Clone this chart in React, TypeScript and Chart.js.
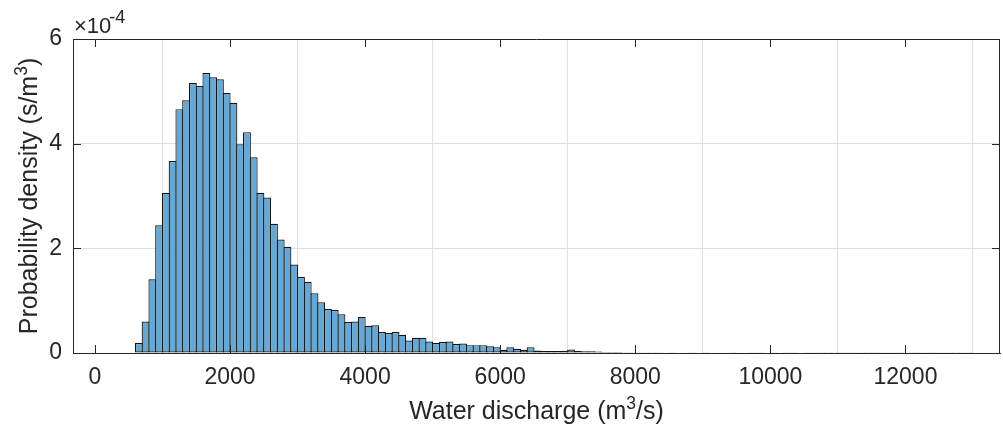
import React, { useEffect, useRef } from "react";
import { Chart, registerables } from "chart.js";

Chart.register(...registerables);

// Histogram bins: left edge of first bin and bin width (m^3/s)
const BIN_START = 300;
const BIN_WIDTH = 100;

// Probability density per bin, in units of 1e-4 s/m^3 (bins 300..13000)
const DENSITY_E4 = [
  0.008, 0.008, 0.008, 0.19, 0.6, 1.41, 2.44, 3.06, 3.67, 4.66,
  4.83, 5.16, 5.1, 5.35, 5.27, 5.23, 4.97, 4.78, 3.99, 4.22,
  3.74, 3.06, 2.97, 2.47, 2.17, 2.03, 1.69, 1.45, 1.36, 1.14,
  0.97, 0.84, 0.82, 0.74, 0.59, 0.6, 0.69, 0.52, 0.53, 0.4,
  0.38, 0.4, 0.35, 0.24, 0.29, 0.29, 0.22, 0.19, 0.21, 0.22,
  0.17, 0.18, 0.15, 0.15, 0.15, 0.13, 0.11, 0.06, 0.11, 0.08,
  0.06, 0.11, 0.05, 0.04, 0.04, 0.04, 0.045, 0.065, 0.04, 0.035,
  0.035, 0.03, 0.02, 0.018, 0.018, 0.015, 0.015, 0.016, 0.014, 0.014,
  0.012, 0.008, 0.012, 0.008, 0.008, 0.006, 0.01, 0.007, 0.01, 0.01,
  0.009, 0.006, 0.009, 0.009, 0.006, 0.006, 0.009, 0.006, 0.008, 0.006,
  0.006, 0.008, 0.006, 0.006, 0.007, 0.007, 0.006, 0.006, 0.006, 0.006,
  0.007, 0.006, 0.006, 0.006, 0.006, 0.006, 0.007, 0.006, 0.007, 0.007,
  0.006, 0.006, 0.006, 0.006, 0.006, 0.006, 0.006,
];

const X_TICKS = [0, 2000, 4000, 6000, 8000, 10000, 12000];
const Y_TICKS = [0, 2, 4, 6];
const X_MIN = -325;
const X_MAX = 13400;
const Y_MIN = 0;
const Y_MAX = 6;

const X_TITLE: [string, boolean][] = [
  ["Water discharge (m", false],
  ["3", true],
  ["/s)", false],
];
const Y_TITLE: [string, boolean][] = [
  ["Probability density (s/m", false],
  ["3", true],
  [")", false],
];
const EXPONENT_BASE = "\u00d710";
const EXPONENT_POWER = "-4";

const FONT = "'Liberation Sans', Arial, Helvetica, sans-serif";
const TEXT_COLOR = "#262626";
const AXIS_COLOR = "#262626";
const GRID_COLOR = "#e0e0e0";
const BAR_FILL = "rgb(100,168,214)";
const BAR_EDGE = "rgb(20,20,20)";

function drawRich(
  ctx: CanvasRenderingContext2D,
  parts: [string, boolean][],
  cx: number,
  baseline: number,
  size: number,
  supSize: number
) {
  let total = 0;
  const widths = parts.map(([t, sup]) => {
    ctx.font = `${sup ? supSize : size}px ${FONT}`;
    const w = ctx.measureText(t).width;
    total += w;
    return w;
  });
  let x = cx - total / 2;
  ctx.textAlign = "left";
  ctx.textBaseline = "alphabetic";
  parts.forEach(([t, sup], i) => {
    ctx.font = `${sup ? supSize : size}px ${FONT}`;
    ctx.fillText(t, x, sup ? baseline - size * 0.42 : baseline);
    x += widths[i];
  });
}

const matlabAxes = {
  id: "matlabAxes",
  afterDraw(chart: any) {
    const { ctx, chartArea, scales } = chart;
    const { left, right, top, bottom } = chartArea;
    const xs = scales.x;
    const ys = scales.y;
    ctx.save();
    ctx.strokeStyle = AXIS_COLOR;
    ctx.lineWidth = 1;
    // box
    ctx.beginPath();
    ctx.moveTo(Math.round(left) + 0.5, Math.round(top) + 0.5);
    ctx.lineTo(Math.round(right) - 0.5, Math.round(top) + 0.5);
    ctx.lineTo(Math.round(right) - 0.5, Math.round(bottom) + 0.5);
    ctx.stroke();
    // inward ticks
    const tl = 8;
    ctx.beginPath();
    X_TICKS.forEach((v) => {
      const px = Math.round(xs.getPixelForValue(v)) + 0.5;
      ctx.moveTo(px, bottom);
      ctx.lineTo(px, bottom - tl);
      ctx.moveTo(px, top);
      ctx.lineTo(px, top + tl);
    });
    Y_TICKS.forEach((v) => {
      const py = Math.round(ys.getPixelForValue(v)) + 0.5;
      ctx.moveTo(left, py);
      ctx.lineTo(left + tl, py);
      ctx.moveTo(right, py);
      ctx.lineTo(right - tl, py);
    });
    ctx.stroke();

    ctx.fillStyle = TEXT_COLOR;
    // exponent label
    ctx.textAlign = "left";
    ctx.textBaseline = "alphabetic";
    ctx.font = `22px ${FONT}`;
    ctx.fillText(EXPONENT_BASE, left + 1, top - 6);
    const w = ctx.measureText(EXPONENT_BASE).width;
    ctx.font = `18px ${FONT}`;
    ctx.fillText(EXPONENT_POWER, left + w - 1, top - 16);

    // x title
    drawRich(ctx, X_TITLE, (left + right) / 2, 419, 25, 17.5);
    // y title
    ctx.save();
    ctx.translate(37, (top + bottom) / 2);
    ctx.rotate(-Math.PI / 2);
    drawRich(ctx, Y_TITLE, 0, 0, 25, 17.5);
    ctx.restore();
    ctx.restore();
  },
};

export default function App() {
  const ref = useRef<HTMLCanvasElement | null>(null);
  useEffect(() => {
    if (!ref.current) return;
    const data = DENSITY_E4.map((v, i) => ({
      x: BIN_START + BIN_WIDTH * (i + 0.5),
      y: v,
    }));
    const chart = new Chart(ref.current, {
      type: "bar",
      data: {
        datasets: [
          {
            data,
            backgroundColor: BAR_FILL,
            borderColor: BAR_EDGE,
            borderWidth: 1.2,
            borderSkipped: false,
            inflateAmount: 0,
            barPercentage: 1.17,
            categoryPercentage: 1,
          } as any,
        ],
      },
      options: {
        animation: false,
        responsive: false,
        maintainAspectRatio: false,
        layout: { padding: { left: 0, top: 39, right: 3, bottom: 0 } },
        plugins: {
          legend: { display: false },
          tooltip: { enabled: false },
        },
        scales: {
          x: {
            type: "linear",
            offset: false,
            min: X_MIN,
            max: X_MAX,
            afterBuildTicks: (s: any) => {
              s.ticks = X_TICKS.map((v) => ({ value: v }));
            },
            afterFit: (s: any) => {
              s.height = 82;
            },
            grid: { color: GRID_COLOR, drawTicks: false, lineWidth: 1 },
            border: { display: true, color: AXIS_COLOR, width: 1 },
            ticks: {
              color: TEXT_COLOR,
              font: { family: FONT, size: 23 },
              padding: 11,
              maxRotation: 0,
              autoSkip: false,
              callback: (v: any) => String(v),
            },
          },
          y: {
            type: "linear",
            min: Y_MIN,
            max: Y_MAX,
            afterBuildTicks: (s: any) => {
              s.ticks = Y_TICKS.map((v) => ({ value: v }));
            },
            afterFit: (s: any) => {
              s.width = 73;
            },
            grid: { color: GRID_COLOR, drawTicks: false, lineWidth: 1 },
            border: { display: true, color: AXIS_COLOR, width: 1 },
            ticks: {
              color: TEXT_COLOR,
              font: { family: FONT, size: 23 },
              padding: 11,
              autoSkip: false,
              callback: (v: any) => String(v),
            },
          },
        },
      },
      plugins: [matlabAxes],
    });
    return () => chart.destroy();
  }, []);
  return (
    <div style={{ position: "fixed", left: 0, top: 0, width: 1003, height: 435, background: "#fff" }}>
      <canvas ref={ref} width={1003} height={435} style={{ width: 1003, height: 435 }} />
    </div>
  );
}
